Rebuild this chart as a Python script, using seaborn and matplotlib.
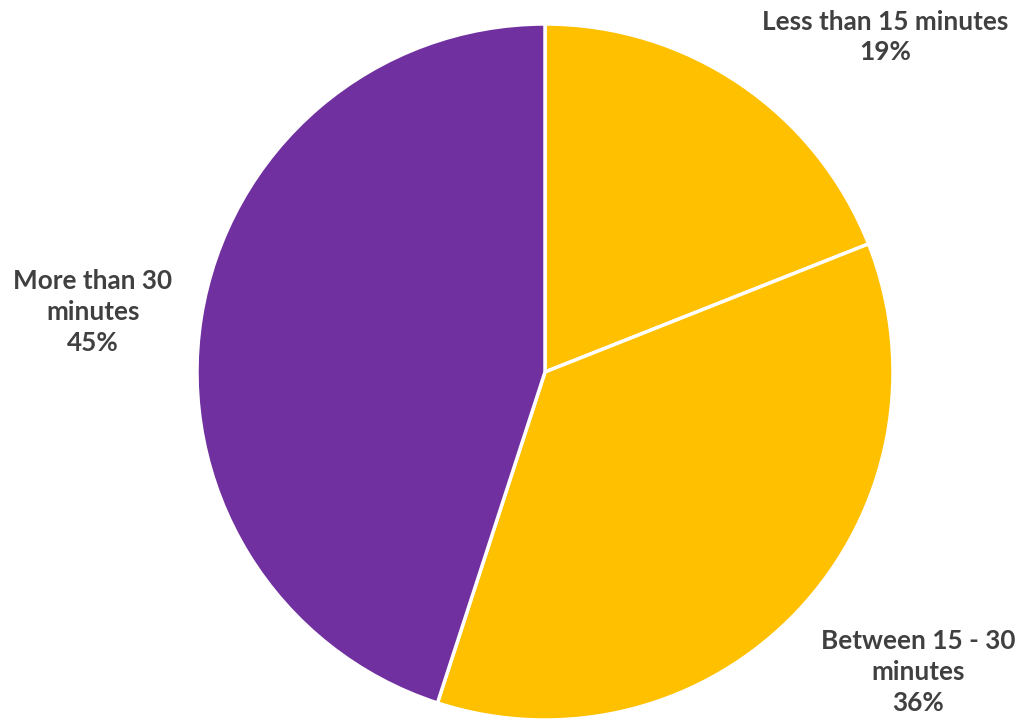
import matplotlib
matplotlib.use("Agg")
import matplotlib.pyplot as plt
import seaborn as sns

categories = ["Less than 15 minutes", "Between 15 - 30\nminutes", "More than 30\nminutes"]
shares = [19, 36, 45]
colors = ["#FFC000", "#FFC000", "#7030A0"]

sns.set_theme(style="white")
plt.rcParams["font.family"] = ["Lato", "DejaVu Sans"]

W, H = 1019, 722
fig = plt.figure(figsize=(W / 100, H / 100), dpi=100)
cx, cy, r = 545, 372, 348
ax = fig.add_axes([(cx - r) / W, 1 - (cy + r) / H, 2 * r / W, 2 * r / H])

ax.pie(shares, colors=colors, startangle=90, counterclock=False, radius=1,
       wedgeprops=dict(edgecolor="white", linewidth=2.5))
ax.set_xlim(-1, 1)
ax.set_ylim(-1, 1)
ax.set_aspect("equal")
ax.axis("off")

# label anchor positions in pixel space (centre of each text block)
label_pos = [(885, 37), (918, 672), (93, 312)]
for name, val, (px, py) in zip(categories, shares, label_pos):
    ax.text((px - cx) / r, (cy - py) / r, f"{name}\n{val}%",
            ha="center", va="center", fontsize=18.8, fontweight="bold",
            color="#404040", linespacing=1.33, clip_on=False)

fig.savefig("out.png", dpi=100)
